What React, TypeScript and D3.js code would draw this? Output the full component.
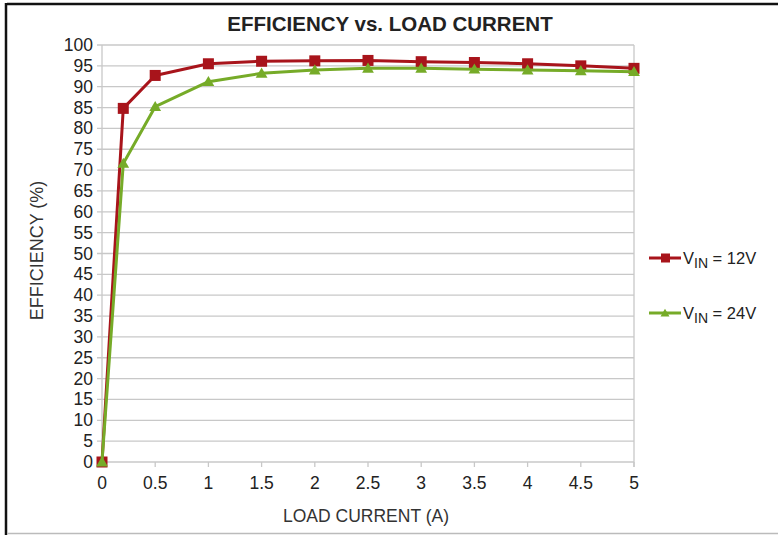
import React from "react";
import * as d3 from "d3";

const loadCurrent = [0, 0.2, 0.5, 1, 1.5, 2, 2.5, 3, 3.5, 4, 4.5, 5];
const eff12V = [0, 84.8, 92.7, 95.5, 96.1, 96.2, 96.3, 96.0, 95.8, 95.5, 95.0, 94.4];
const eff24V = [0, 71.6, 85.2, 91.2, 93.2, 94.0, 94.4, 94.4, 94.2, 94.0, 93.8, 93.6];
const xTicks = [0, 0.5, 1, 1.5, 2, 2.5, 3, 3.5, 4, 4.5, 5];
const yTicks = d3.range(0, 101, 5);

const W = 778;
const H = 535;
const plot = { left: 102, right: 634, top: 45, bottom: 462 };
const font = "'Liberation Sans', Arial, sans-serif";
const RED = "#a8141b";
const GREEN = "#76ab28";

export default function App() {
  const x = d3.scaleLinear().domain([0, 5]).range([plot.left, plot.right]);
  const y = d3.scaleLinear().domain([0, 100]).range([plot.bottom, plot.top]);
  const line = d3
    .line<number>()
    .x((_, i) => x(loadCurrent[i]))
    .y((d) => y(d));

  const tri = d3.symbol().type(d3.symbolTriangle).size(60)();

  const series = [
    { vals: eff12V, color: RED, marker: "square", label: "12V" },
    { vals: eff24V, color: GREEN, marker: "triangle", label: "24V" },
  ];

  const drawMarker = (kind: string, cx: number, cy: number, color: string, key: any, s = 11) =>
    kind === "square" ? (
      <rect key={key} x={cx - s / 2} y={cy - s / 2} width={s} height={s} fill={color} />
    ) : (
      <path key={key} d={tri as string} transform={`translate(${cx},${cy + 1})`} fill={color} />
    );

  return (
    <svg
      width={W}
      height={H}
      style={{ position: "absolute", left: 0, top: 0, background: "#fff" }}
      fontFamily={font}
    >
      {/* chart frame */}
      <line x1={7} y1={4} x2={W} y2={4} stroke="#111" strokeWidth={2.5} />
      <line x1={6} y1={3} x2={6} y2={H} stroke="#111" strokeWidth={2.5} />
      <line x1={7} y1={533.5} x2={W} y2={533.5} stroke="#bbb" strokeWidth={1.5} />

      <text x={390} y={31} textAnchor="middle" fontSize={20.5} fontWeight="bold" fill="#222">
        EFFICIENCY vs. LOAD CURRENT
      </text>

      {/* horizontal gridlines with left tick stubs */}
      {yTicks.map((t) => (
        <g key={t}>
          <line x1={plot.left - 5} x2={plot.right} y1={y(t)} y2={y(t)} stroke="#c8c8c8" strokeWidth={1.3} />
          <text x={93} y={y(t) + 6} textAnchor="end" fontSize={17.5} fill="#222">
            {t}
          </text>
        </g>
      ))}
      {/* plot border */}
      <line x1={plot.left} x2={plot.left} y1={plot.top} y2={plot.bottom} stroke="#c8c8c8" strokeWidth={1.3} />
      <line x1={plot.right} x2={plot.right} y1={plot.top} y2={plot.bottom + 5} stroke="#c8c8c8" strokeWidth={1.3} />

      {/* x ticks */}
      {xTicks.map((t) => (
        <g key={t}>
          <line x1={x(t)} x2={x(t)} y1={plot.bottom} y2={plot.bottom + 5} stroke="#c8c8c8" strokeWidth={1.3} />
          <text x={x(t)} y={489} textAnchor="middle" fontSize={17.5} fill="#222">
            {t}
          </text>
        </g>
      ))}

      <text x={366} y={522} textAnchor="middle" fontSize={17.5} fill="#333">
        LOAD CURRENT (A)
      </text>
      <text
        transform={`translate(43,${(plot.top + plot.bottom) / 2 - 3}) rotate(-90)`}
        textAnchor="middle"
        fontSize={18}
        fill="#333"
      >
        EFFICIENCY (%)
      </text>

      {/* data series */}
      {series.map((s) => (
        <g key={s.label}>
          <path d={line(s.vals) as string} fill="none" stroke={s.color} strokeWidth={3} strokeLinejoin="round" />
          {s.vals.map((v, i) => drawMarker(s.marker, x(loadCurrent[i]), y(v), s.color, i))}
        </g>
      ))}

      {/* legend */}
      {series.map((s, i) => {
        const ly = 258 + i * 55;
        return (
          <g key={s.label}>
            <line x1={649} x2={681} y1={ly} y2={ly} stroke={s.color} strokeWidth={3} />
            {s.marker === "square" ? (
              <rect x={661} y={ly - 4.5} width={9} height={9} fill={s.color} />
            ) : (
              <path d={d3.symbol().type(d3.symbolTriangle).size(35)() as string} transform={`translate(665,${ly + 1})`} fill={s.color} />
            )}
            <text x={683} y={ly + 6} fontSize={16.5} fill="#222">
              V
              <tspan fontSize={14} dy={4}>IN</tspan>
              <tspan dy={-4}> = {s.label}</tspan>
            </text>
          </g>
        );
      })}
    </svg>
  );
}
